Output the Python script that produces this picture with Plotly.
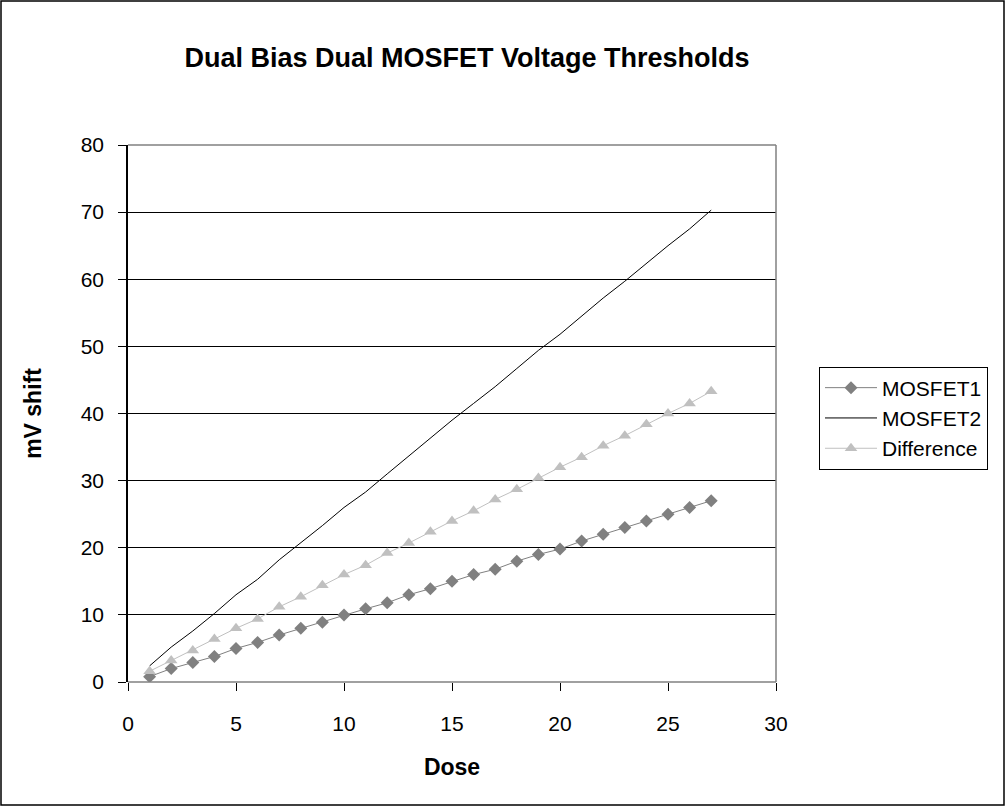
import plotly.graph_objects as go

dose = list(range(1, 28))
mosfet1 = [0.8, 2.0, 2.9, 3.8, 5.0, 5.9, 7.0, 8.0, 8.9, 10.0, 10.9, 11.8, 13.0, 13.9,
           15.0, 16.0, 16.8, 18.0, 19.0, 19.8, 21.0, 22.0, 23.0, 24.0, 25.0, 26.0, 27.0]
mosfet2 = [2.4, 5.2, 7.6, 10.2, 13.0, 15.3, 18.2, 20.7, 23.3, 26.0, 28.3, 31.0, 33.7, 36.3,
           39.0, 41.5, 44.0, 46.7, 49.4, 51.8, 54.5, 57.2, 59.7, 62.4, 65.0, 67.5, 70.3]
difference = [1.6, 3.2, 4.7, 6.4, 8.0, 9.4, 11.2, 12.7, 14.4, 16.0, 17.4, 19.2, 20.7, 22.4,
              24.0, 25.5, 27.2, 28.7, 30.4, 32.0, 33.5, 35.2, 36.7, 38.4, 40.0, 41.5, 43.3]

FONT = "Arial, 'Liberation Sans', sans-serif"

fig = go.Figure()
fig.add_trace(go.Scatter(x=dose, y=mosfet1, name="MOSFET1", mode="lines+markers",
                         line=dict(color="#808080", width=1),
                         marker=dict(symbol="diamond", size=10, color="#808080")))
fig.add_trace(go.Scatter(x=dose, y=mosfet2, name="MOSFET2", mode="lines",
                         line=dict(color="#000000", width=1)))
fig.add_trace(go.Scatter(x=dose, y=difference, name="Difference", mode="lines+markers",
                         line=dict(color="#c0c0c0", width=1),
                         marker=dict(symbol="triangle-up", size=11, color="#c0c0c0")))

W, H = 1006, 807
L, R, T, B = 128, 230, 145, 125
pw, ph = W - L - R, H - T - B


def px(xp):
    return (xp - L) / pw


def py(yp):
    return (H - B - yp) / ph


shapes = [
    # grey frame on top, right and bottom of the plot area
    dict(type="line", xref="paper", yref="paper", x0=0, x1=1, y0=1, y1=1,
         line=dict(color="#808080", width=1.5), layer="above"),
    dict(type="line", xref="paper", yref="paper", x0=1, x1=1, y0=0, y1=1,
         line=dict(color="#808080", width=1.5), layer="above"),
    dict(type="line", xref="paper", yref="paper", x0=0, x1=1, y0=0, y1=0,
         line=dict(color="#808080", width=1.5), layer="above"),
    # outer chart border
    dict(type="rect", xref="paper", yref="paper",
         x0=px(1), x1=px(W - 2), y0=py(H - 2), y1=py(1),
         line=dict(color="#000000", width=1.5), layer="above"),
]

fig.update_layout(
    width=W, height=H,
    margin=dict(l=L, r=R, t=T, b=B),
    paper_bgcolor="white", plot_bgcolor="white",
    font=dict(family=FONT, size=21, color="black"),
    title=dict(text="<b>Dual Bias Dual MOSFET Voltage Thresholds</b>",
               font=dict(family=FONT, size=27, color="black"),
               x=px(467), xref="paper", xanchor="center",
               y=1 - 58 / H, yref="container", yanchor="middle"),
    xaxis=dict(range=[0, 30], dtick=5, tick0=0, showgrid=False, zeroline=False,
               ticks="outside", ticklen=8, tickcolor="black", showline=False,
               tickfont=dict(size=21), ticklabelstandoff=15,
               title=dict(text="<b>Dose</b>", font=dict(size=23), standoff=24)),
    yaxis=dict(range=[0, 80], dtick=10, tick0=0, showgrid=True, gridcolor="black",
               gridwidth=1, zeroline=False, ticks="outside", ticklen=8,
               tickcolor="black", showline=True, linecolor="black", linewidth=1.5,
               tickfont=dict(size=21), ticklabelstandoff=10,
               title=dict(text="<b>mV shift</b>", font=dict(size=23), standoff=33)),
    legend=dict(x=px(819), xanchor="left", y=py(418), yanchor="middle",
                bordercolor="black", borderwidth=1, bgcolor="white",
                font=dict(size=21), itemwidth=52),
    shapes=shapes,
    showlegend=True,
)

fig.write_html("out.html")
